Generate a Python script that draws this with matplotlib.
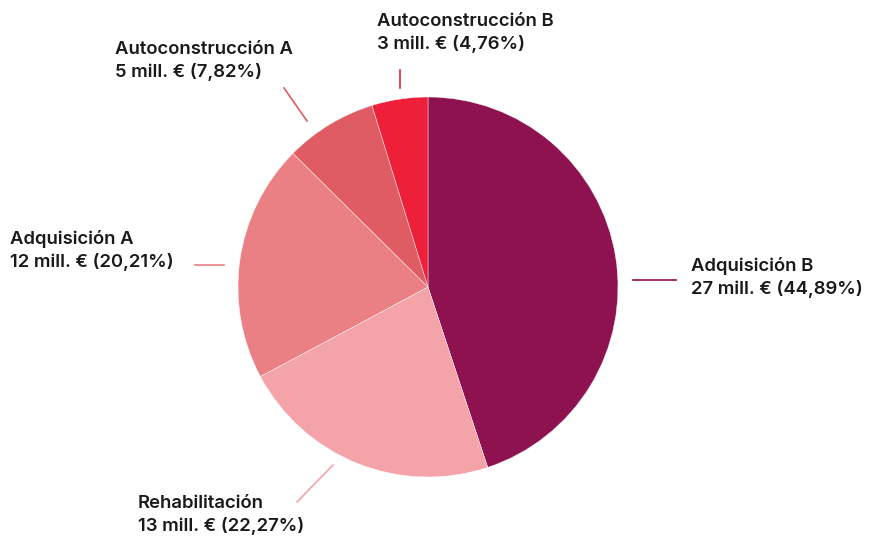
import matplotlib
matplotlib.use('Agg')
import matplotlib.pyplot as plt

categories = ['Adquisición B', 'Rehabilitación', 'Adquisición A',
              'Autoconstrucción A', 'Autoconstrucción B']
amounts = [27, 13, 12, 5, 3]
shares = [44.89, 22.27, 20.21, 7.82, 4.76]
colors = ['#8e1150', '#f4a3a8', '#ea7f84', '#e05c64', '#ee2039']

W, H = 870, 542
plt.rcParams['font.family'] = ['Inter', 'DejaVu Sans']

fig = plt.figure(figsize=(W / 100, H / 100), dpi=100)
ax = fig.add_axes([0, 0, 1, 1])

ax.pie(shares, colors=colors, startangle=90, counterclock=False,
       center=(428, H - 287), radius=190, frame=True,
       wedgeprops=dict(linewidth=0.3, edgecolor='white'))
ax.set_xlim(0, W)
ax.set_ylim(0, H)
ax.axis('off')

# label layout in pixel coords (top-left origin): text anchor, leader line
layout = {
    'Adquisición B': ((691, 257), [(633, 280), (676, 280)]),
    'Rehabilitación': ((138, 495), [(297, 502), (333, 465)]),
    'Adquisición A': ((10, 230), [(195, 265), (224, 265)]),
    'Autoconstrucción A': ((115, 41), [(284, 88), (307, 121)]),
    'Autoconstrucción B': ((377, 13), [(400, 70), (400, 88)]),
}

for cat, amt, sh, col in zip(categories, amounts, shares, colors):
    (tx, ty), line = layout[cat]
    pct = f'{sh:.2f}'.replace('.', ',')
    label = f"{cat}\n{amt} mill. € ({pct}%)"
    ax.text(tx, H - ty, label, ha='left', va='top', fontsize=13.3,
            fontweight='semibold', color='#1a1a1a', linespacing=1.33)
    xs = [p[0] for p in line]
    ys = [H - p[1] for p in line]
    ax.plot(xs, ys, color=col, lw=1.2)

fig.savefig('out.png', dpi=100, facecolor='white')
